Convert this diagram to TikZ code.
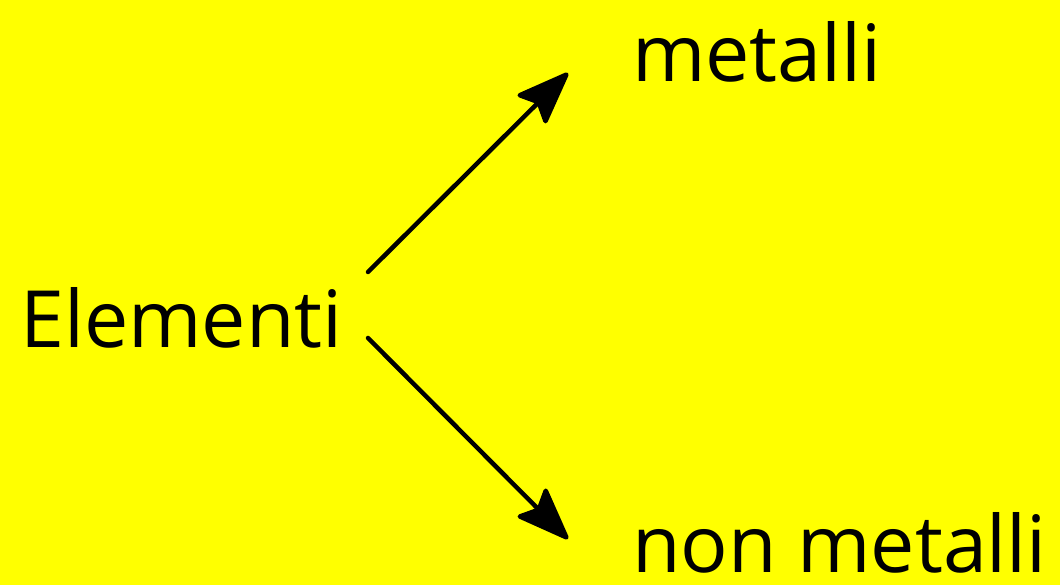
\documentclass[tikz,border=0pt]{standalone}
\usepackage{fontspec}
\setmainfont{Open Sans}
\usetikzlibrary{arrows.meta}
\definecolor{bgyellow}{RGB}{255,255,0}
\begin{document}
\begin{tikzpicture}[x=1pt,y=1pt,
  lbl/.style={inner sep=0pt,anchor=base west,font=\fontsize{79}{90}\selectfont},
  conn/.style={line width=4.5pt,line cap=round,-{Stealth[length=58pt,width=44pt,inset=10pt,round]}}]
\fill[bgyellow] (0,0) rectangle (1060,585);
\useasboundingbox (0,0) rectangle (1060,585);
\node[lbl] (el) at (20,237) {Elementi};
\node[lbl] (me) at (632,503) {metalli};
\node[lbl] (nm) at (632,12) {non metalli};
\coordinate (s1) at (368,313);
\coordinate (t1) at (568,512);
\coordinate (s2) at (368,247);
\coordinate (t2) at (568,46);
\draw[conn] (s1) -- (t1);
\draw[conn] (s2) -- (t2);
\end{tikzpicture}
\end{document}
